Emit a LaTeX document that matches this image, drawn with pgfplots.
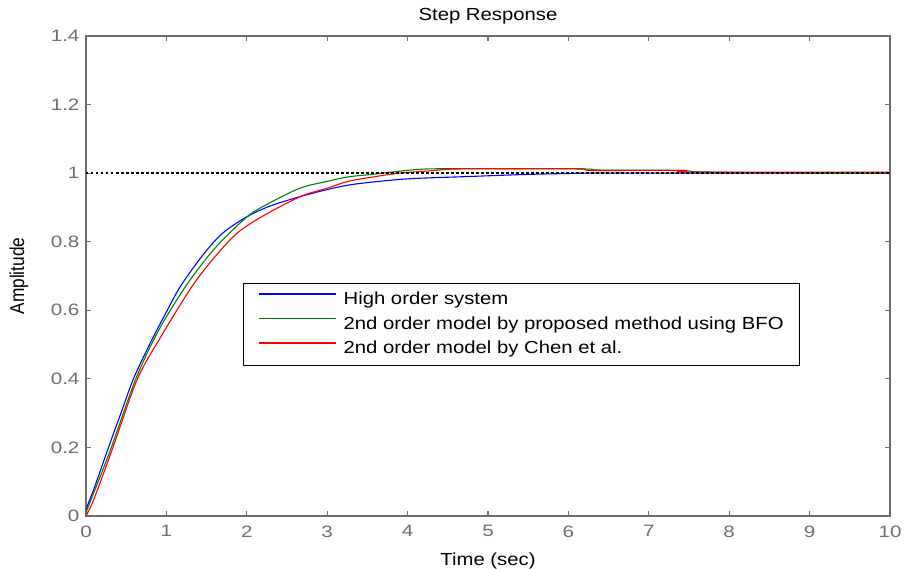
\documentclass[border=0pt]{standalone}
\usepackage{fontspec}
\setmainfont{Liberation Sans}
\usepackage{graphicx}
\usepackage{pgfplots}
\pgfplotsset{compat=1.18}

\definecolor{axgray}{RGB}{110,110,110}
\definecolor{mgreen}{rgb}{0,0.5,0}
% the reference is stretched sideways a little
\newcommand{\wide}[1]{\scalebox{1.16}[1]{#1}}
\newcommand{\widetick}[1]{\scalebox{1.25}[1]{#1}}

\begin{document}
\begin{tikzpicture}
\begin{axis}[
  name=ax,
  scale only axis,
  width=804pt, height=480pt,
  xmin=0, xmax=10, ymin=0, ymax=1.4,
  xtick={0,1,2,3,4,5,6,7,8,9,10},
  ytick={0,0.2,0.4,0.6,0.8,1,1.2,1.4},
  axis line style={axgray, line width=1.2pt},
  tick style={axgray, line width=1.2pt},
  major tick length=5pt,
  tick align=inside,
  ticklabel style={axgray, font=\fontsize{16.5}{19}\selectfont},
  xticklabel style={yshift=-6pt},
  yticklabel style={xshift=-3pt},
  /pgf/number format/assume math mode=true,
  xticklabel={\widetick{\pgfmathprintnumber{\tick}}},
  yticklabel={\widetick{\pgfmathprintnumber{\tick}}},
  title={\wide{Step Response}},
  title style={font=\fontsize{17.5}{20}\selectfont, at={(0.5,1)}, anchor=base, yshift=9pt},
  xlabel={\wide{Time (sec)}},
  xlabel style={font=\fontsize{17.5}{20}\selectfont, at={(0.5,0)}, anchor=base, yshift=-49pt},
  ylabel={\scalebox{1}[1.16]{Amplitude}},
  ylabel style={font=\fontsize{17.3}{20}\selectfont, at={(0,0.5)}, anchor=center, yshift=67pt},
  legend style={draw=black, line width=1pt, at={(0.1953,0.4854)}, anchor=north west,
    font=\fontsize{17.5}{20}\selectfont, inner xsep=15pt, inner ysep=7pt,
    row sep=5.5pt, column sep=6pt,
    nodes={inner sep=1pt, text height=13pt, text depth=4pt}},
  legend cell align=left,
  legend image code/.code={\draw[#1] (0pt,6pt) -- (77pt,6pt);},
]
\addplot[blue, line width=1.1pt, smooth] coordinates {
 (0,0.02) (0.1,0.08) (0.28,0.20) (0.45,0.31) (0.59,0.40) (0.8,0.505) (1.0,0.595)
 (1.175,0.67) (1.45,0.76) (1.70,0.825) (2.01,0.874) (2.3,0.905) (2.67,0.932)
 (3.0,0.952) (3.26,0.965) (3.6,0.975) (4.05,0.984) (4.74,0.990) (5.45,0.996)
 (6.0,0.999) (6.5,1.0) (10,1.0)};
\addlegendentry{\wide{High order system}}
\addplot[mgreen, line width=1.1pt, smooth] coordinates {
 (0,0.01) (0.1,0.07) (0.3,0.19) (0.62,0.40) (0.9,0.54) (1.24,0.67) (1.6,0.78)
 (2.01,0.874) (2.3,0.915) (2.67,0.957) (3.0,0.976) (3.26,0.989) (3.58,0.997)
 (3.8,1.003) (4.22,1.012) (5.0,1.013) (6.2,1.012) (6.4,1.009) (7.4,1.008)
 (7.6,1.004) (8.5,1.001) (10,1.0)};
\addlegendentry{\wide{2nd order model by proposed method using BFO}}
\addplot[red, line width=1.1pt, smooth] coordinates {
 (0,0) (0.1,0.05) (0.32,0.19) (0.64,0.40) (0.95,0.53) (1.32,0.67) (1.6,0.755)
 (1.88,0.825) (2.2,0.875) (2.67,0.932) (3.0,0.956) (3.26,0.976) (3.6,0.99)
 (3.9,1.0) (4.3,1.007) (4.6,1.012) (5.5,1.013) (6.15,1.013) (6.3,1.008)
 (7.43,1.008) (7.5,1.003) (10,1.003)};
\addlegendentry{\wide{2nd order model by Chen et al.}}
\addplot[black, line width=1.3pt, dash pattern=on 2.5pt off 2.5pt, forget plot]
 coordinates {(0,1) (10,1)};
\end{axis}
\pgfresetboundingbox
\path (ax.south west) ++(-86pt,-52pt) rectangle ++(904pt,568pt);
\end{tikzpicture}
\end{document}
